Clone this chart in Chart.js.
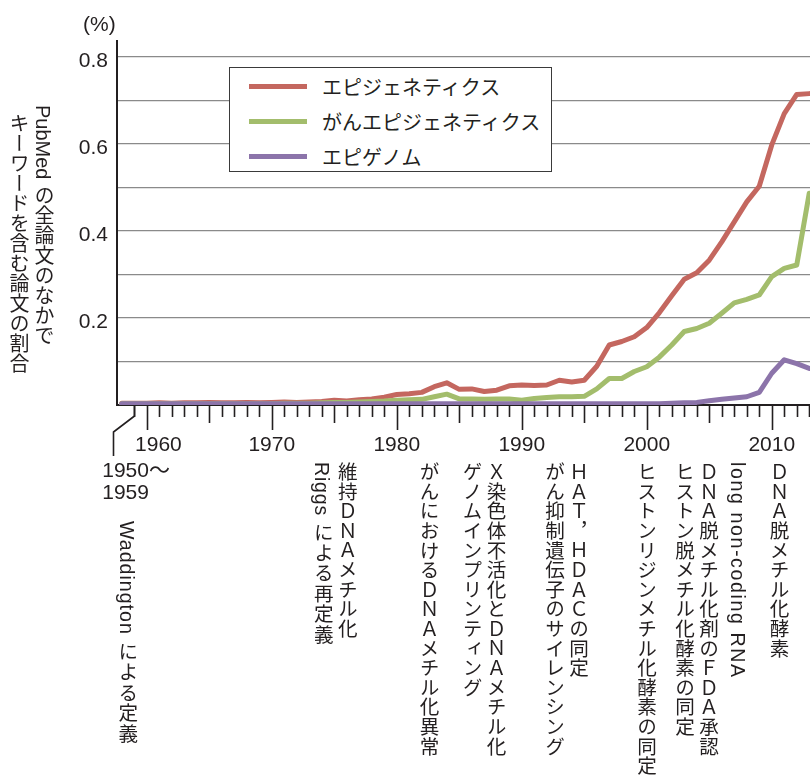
<!DOCTYPE html>
<html>
<head>
<meta charset="utf-8">
<script src="https://cdn.jsdelivr.net/npm/chart.js@4.4.1/dist/chart.umd.min.js"></script>
<style>
  html, body { margin: 0; padding: 0; background: #fff; }
  #wrap { position: relative; width: 810px; height: 779px; overflow: hidden; }
  #chart { position: absolute; left: 0; top: 0; }
  .vt {
    position: absolute;
    writing-mode: vertical-rl;
    text-orientation: mixed;
    font-family: "Liberation Sans", "Noto Sans CJK JP", sans-serif;
    font-size: 19.6px;
    line-height: 24px;
    color: #231f20;
    white-space: nowrap;
  }
  .ht {
    position: absolute;
    font-family: "Liberation Sans", "Noto Sans CJK JP", sans-serif;
    font-size: 21px;
    line-height: 22px;
    color: #231f20;
    white-space: nowrap;
  }
  #legend {
    position: absolute;
    left: 229px; top: 67px; width: 321px; height: 103px;
    border: 1.5px solid #3a3a3a;
    background: #fff;
  }
  .lg-row { position: absolute; left: 0; height: 30px; width: 100%; }
  .lg-line { position: absolute; left: 19px; width: 58px; height: 5px; top: 12px; }
  .lg-text {
    position: absolute; left: 92px; top: 0; line-height: 30px;
    font-family: "Noto Sans CJK JP", sans-serif; font-size: 20px; color: #231f20;
  }
</style>
</head>
<body>
<div id="wrap">
  <canvas id="chart" width="810" height="779"></canvas>
</div>
<script>
// ---------------- data ----------------
const years = [
  1958, 1959, 1960, 1961, 1962, 1963, 1964, 1965, 1966, 1967,
  1968, 1969, 1970, 1971, 1972, 1973, 1974, 1975, 1976, 1977,
  1978, 1979, 1980, 1981, 1982, 1983, 1984, 1985, 1986, 1987,
  1988, 1989, 1990, 1991, 1992, 1993, 1994, 1995, 1996, 1997,
  1998, 1999, 2000, 2001, 2002, 2003, 2004, 2005, 2006, 2007,
  2008, 2009, 2010, 2011, 2012, 2013
];
// エピジェネティクス (%)
const epigenetics = [
  0.004, 0.004, 0.004, 0.005, 0.004, 0.005, 0.005, 0.006, 0.005, 0.005,
  0.006, 0.005, 0.006, 0.007, 0.006, 0.007, 0.008, 0.011, 0.009, 0.012,
  0.014, 0.018, 0.024, 0.026, 0.029, 0.042, 0.051, 0.036, 0.037, 0.031,
  0.034, 0.044, 0.046, 0.045, 0.046, 0.057, 0.053, 0.057, 0.089, 0.138,
  0.146, 0.157, 0.178, 0.212, 0.251, 0.289, 0.304, 0.333, 0.375, 0.421,
  0.467, 0.503, 0.598, 0.670, 0.714, 0.716
];
// がんエピジェネティクス (%)
const cancerEpigenetics = [
  0.003, 0.003, 0.003, 0.003, 0.003, 0.003, 0.003, 0.003, 0.003, 0.003,
  0.003, 0.003, 0.003, 0.004, 0.004, 0.004, 0.005, 0.006, 0.006, 0.007,
  0.008, 0.009, 0.011, 0.012, 0.013, 0.019, 0.025, 0.014, 0.014, 0.013,
  0.014, 0.014, 0.011, 0.015, 0.017, 0.019, 0.019, 0.020, 0.037, 0.061,
  0.061, 0.077, 0.088, 0.110, 0.138, 0.169, 0.176, 0.188, 0.211, 0.235,
  0.243, 0.253, 0.295, 0.314, 0.322, 0.487
];
// エピゲノム (%)
const epigenome = [
  0.003, 0.003, 0.003, 0.003, 0.003, 0.003, 0.003, 0.003, 0.003, 0.003,
  0.003, 0.003, 0.003, 0.003, 0.003, 0.003, 0.003, 0.003, 0.003, 0.003,
  0.003, 0.003, 0.003, 0.003, 0.003, 0.003, 0.003, 0.003, 0.003, 0.003,
  0.003, 0.003, 0.003, 0.003, 0.003, 0.003, 0.003, 0.003, 0.003, 0.003,
  0.003, 0.003, 0.003, 0.003, 0.004, 0.005, 0.006, 0.010, 0.013, 0.016,
  0.019, 0.029, 0.073, 0.104, 0.095, 0.084
];
const seriesNames = ['エピジェネティクス', 'がんエピジェネティクス', 'エピゲノム'];
const seriesColors = ['#c4675f', '#a3bd6c', '#8c74aa'];

const xTickLabels = ['1960', '1970', '1980', '1990', '2000', '2010'];
const yTickLabels = ['0.2', '0.4', '0.6', '0.8'];
const firstBinLabel = ['1950〜', '1959'];
const firstBinYear = 1959;
const yUnit = '(%)';
const yTitle = ['PubMed の全論文のなかで', 'キーワードを含む論文の割合'];

// events below the axis: anchor year and text columns (right column first)
const eventYears = [1958.4, 1975, 1982.5, 1986.9, 1993.5, 1999.9, 2003.9, 2007.3, 2010.5];
const eventTexts = [
  ['Waddington による定義'],
  ['維持ＤＮＡメチル化', 'Riggs による再定義'],
  ['がんにおけるＤＮＡメチル化異常'],
  ['Ｘ染色体不活化とＤＮＡメチル化', 'ゲノムインプリンティング'],
  ['ＨＡＴ，ＨＤＡＣの同定', 'がん抑制遺伝子のサイレンシング'],
  ['ヒストンリジンメチル化酵素の同定'],
  ['ＤＮＡ脱メチル化剤のＦＤＡ承認', 'ヒストン脱メチル化酵素の同定'],
  ['long non-coding RNA'],
  ['ＤＮＡ脱メチル化酵素']
];
// typographic tracking per column (px), matching the printed spacing
const eventTracking = [
  [1], [0, 0.8], [0], [0, 0], [0, 0], [0], [0, 0], [1.6], [0]
];

// ---------------- chart ----------------
const INK = '#231f20';
const NUM_FONT = '"Liberation Sans", Arial, Helvetica, sans-serif';

const yearTicks = {
  id: 'yearTicks',
  afterDraw(chart) {
    const xs = chart.scales.x;
    const ctx = chart.ctx;
    const y0 = chart.chartArea.bottom;
    ctx.save();
    ctx.strokeStyle = INK;
    ctx.lineWidth = 1.6;
    const first = Math.ceil(xs.min + 1);
    for (let yr = first; yr <= Math.floor(xs.max); yr++) {
      const px = Math.round(xs.getPixelForValue(yr)) + 0.5;
      const len = yr % 10 === 0 ? 25 : (yr % 5 === 0 ? 18 : 12);
      ctx.beginPath();
      ctx.moveTo(px, y0);
      ctx.lineTo(px, y0 + len);
      ctx.stroke();
    }
    // leader for the 1950-1959 bin
    const p = Math.round(xs.getPixelForValue(firstBinYear)) + 0.5;
    ctx.beginPath();
    ctx.moveTo(p, y0);
    ctx.lineTo(p, y0 + 11);
    ctx.lineTo(p - 21, y0 + 27);
    ctx.lineTo(p - 21, y0 + 51);
    ctx.stroke();
    ctx.restore();
  }
};

const makeSeries = (vals) => years.map((yr, i) => ({ x: yr, y: vals[i] }));
const allSeries = [epigenetics, cancerEpigenetics, epigenome];

const chart = new Chart(document.getElementById('chart'), {
  type: 'line',
  data: {
    datasets: allSeries.map((vals, i) => ({
      label: seriesNames[i],
      data: makeSeries(vals),
      borderColor: seriesColors[i],
      backgroundColor: seriesColors[i],
      order: 2 - i
    }))
  },
  options: {
    responsive: false,
    animation: false,
    devicePixelRatio: 1,
    layout: { padding: { top: 41, left: 0, right: 0, bottom: 0 } },
    plugins: { legend: { display: false }, tooltip: { enabled: false } },
    elements: {
      point: { radius: 0 },
      line: { borderWidth: 5, tension: 0, borderCapStyle: 'round', borderJoinStyle: 'round' }
    },
    scales: {
      x: {
        type: 'linear',
        min: 1957.62,
        max: 2013.06,
        afterFit(s) { s.height = 374; s.paddingLeft = 0; s.paddingRight = 0; },
        grid: { display: false, drawTicks: false },
        border: { display: true, color: INK, width: 2 },
        ticks: {
          stepSize: 10,
          includeBounds: false,
          autoSkip: false,
          maxRotation: 0,
          padding: 28,
          color: INK,
          font: { family: NUM_FONT, size: 21 },
          callback(v) {
            const lab = xTickLabels.find(t => Number(t) === v);
            if (!lab) return '';
            return v === 1960 ? '    ' + lab : lab;
          }
        }
      },
      y: {
        min: 0,
        max: 0.837,
        afterFit(s) { s.width = 117; s.paddingTop = 0; s.paddingBottom = 0; },
        grid: { color: '#8a8a8a', lineWidth: 1.2, drawTicks: false },
        border: { display: true, color: INK, width: 2 },
        ticks: {
          stepSize: 0.1,
          includeBounds: false,
          padding: 9,
          labelOffset: 4,
          color: INK,
          font: { family: NUM_FONT, size: 21 },
          callback(v) {
            const lab = yTickLabels.find(t => Math.abs(Number(t) - v) < 1e-6);
            return lab || '';
          }
        }
      }
    }
  },
  plugins: [yearTicks]
});

// ---------------- HTML text overlays ----------------
const wrap = document.getElementById('wrap');
const xs = chart.scales.x;

function addDiv(cls, html, styles) {
  const d = document.createElement('div');
  d.className = cls;
  if (Array.isArray(html)) {
    html.forEach((node, k) => { if (k) d.appendChild(document.createElement('br')); d.appendChild(node); });
  } else {
    d.textContent = html;
  }
  Object.assign(d.style, styles);
  wrap.appendChild(d);
  return d;
}
function span(text, tracking) {
  const s = document.createElement('span');
  s.textContent = text;
  if (tracking) s.style.letterSpacing = tracking + 'px';
  return s;
}

// unit
addDiv('ht', yUnit, { left: '83px', top: '13px' });

// y-axis title (two vertical columns)
addDiv('vt', yTitle[0], { left: '31px', top: '105px', fontSize: '20px' });
addDiv('vt', yTitle[1], { left: '6px', top: '113px', fontSize: '20px' });

// first bin label
const binDiv = addDiv('ht', firstBinLabel.map(t => span(t, 0)), { top: '459px' });
binDiv.style.left = (xs.getPixelForValue(firstBinYear) - binDiv.offsetWidth / 2 + 2) + 'px';

// events
eventYears.forEach((yr, i) => {
  const cols = eventTexts[i].map((t, k) => span(t, eventTracking[i][k]));
  const d = addDiv('vt', cols, { top: i === 0 ? '521px' : '462px' });
  d.style.left = (xs.getPixelForValue(yr) - d.offsetWidth / 2) + 'px';
});

// legend built from datasets
const legend = document.createElement('div');
legend.id = 'legend';
chart.data.datasets.forEach((ds, i) => {
  const row = document.createElement('div');
  row.className = 'lg-row';
  row.style.top = (4 + i * 35) + 'px';
  const ln = document.createElement('div');
  ln.className = 'lg-line';
  ln.style.background = ds.borderColor;
  const tx = document.createElement('div');
  tx.className = 'lg-text';
  tx.textContent = ds.label;
  row.appendChild(ln);
  row.appendChild(tx);
  legend.appendChild(row);
});
wrap.appendChild(legend);
</script>
</body>
</html>
